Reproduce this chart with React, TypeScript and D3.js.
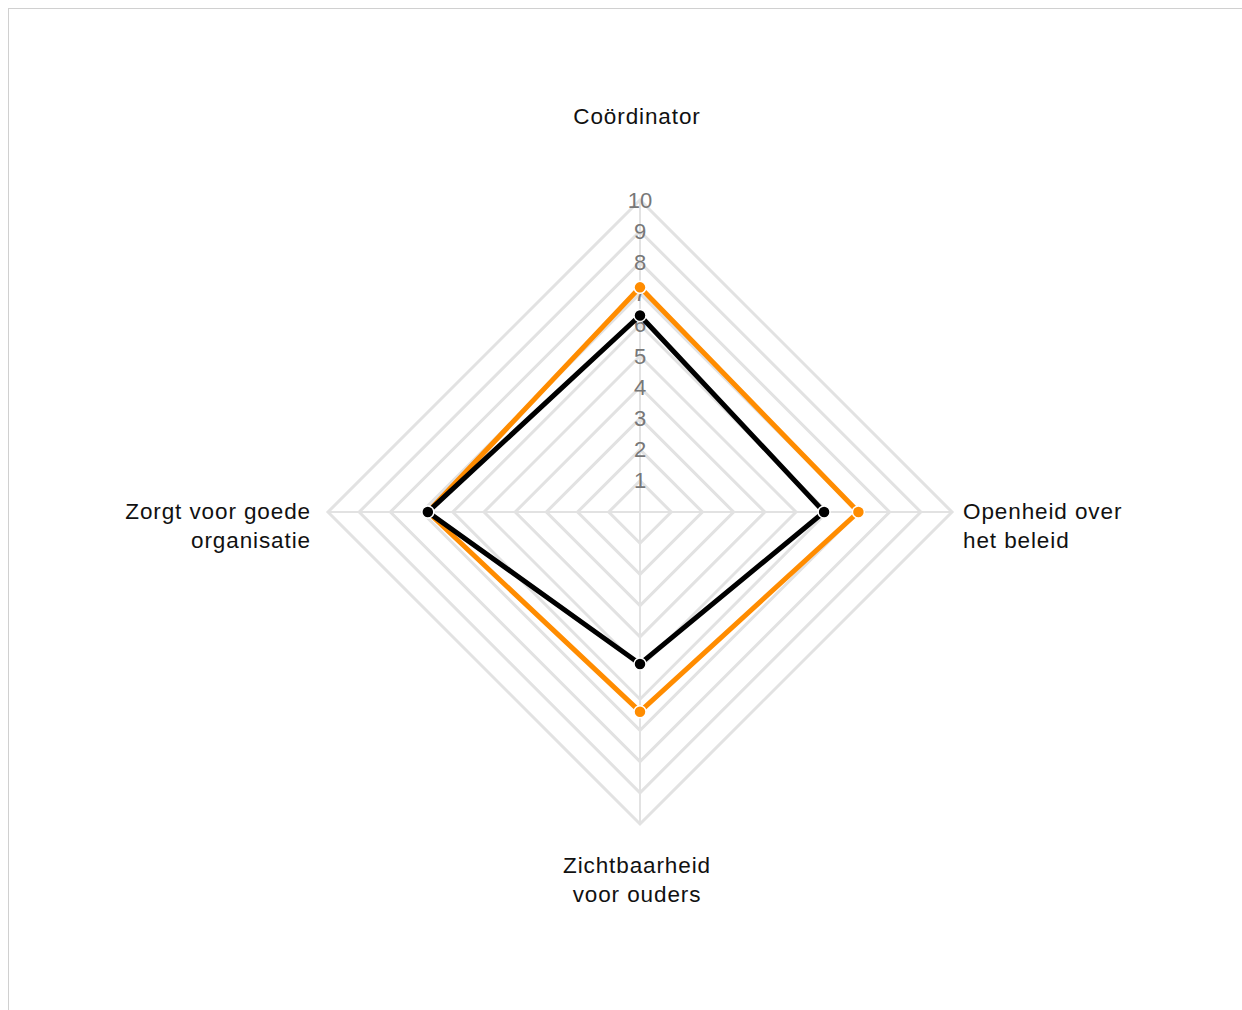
import React from "react";
import * as d3 from "d3";

const categories: string[][] = [
  ["Coördinator"],
  ["Openheid over", "het beleid"],
  ["Zichtbaarheid", "voor ouders"],
  ["Zorgt voor goede", "organisatie"],
];
const seriesOrange: number[] = [7.2, 7.0, 6.4, 6.8];
const seriesBlack: number[] = [6.3, 5.9, 4.87, 6.8];
const ticks: number[] = [1, 2, 3, 4, 5, 6, 7, 8, 9, 10];

const W = 1242;
const H = 1010;
const cx = 640;
const cy = 512;
const R = 312;

export default function App() {
  const r = d3.scaleLinear().domain([0, 10]).range([0, R]);
  const n = categories.length;
  const angle = (i: number) => (i * 2 * Math.PI) / n - Math.PI / 2;
  const pt = (i: number, v: number): [number, number] => [
    cx + r(v) * Math.cos(angle(i)),
    cy + r(v) * Math.sin(angle(i)),
  ];
  const line = d3.line<[number, number]>().curve(d3.curveLinearClosed);
  const series = [
    { data: seriesOrange, color: "#ff8c00" },
    { data: seriesBlack, color: "#000000" },
  ];
  const labelPos = [
    { x: 637, y: 116, anchor: "middle" },
    { x: 963, y: 511, anchor: "start" },
    { x: 637, y: 865, anchor: "middle" },
    { x: 311, y: 511, anchor: "end" },
  ];
  return (
    <svg
      width={W}
      height={H}
      style={{ position: "absolute", left: 0, top: 0, background: "#fff" }}
      fontFamily="'Liberation Sans', Arial, sans-serif"
    >
      <rect x={8.5} y={8.5} width={W + 20} height={H + 20} fill="#fff" stroke="#d0d0d0" strokeWidth={1} />
      {ticks.map((t) => (
        <path
          key={t}
          d={line(categories.map((_, i) => pt(i, t))) || ""}
          fill="none"
          stroke="#e2e2e2"
          strokeWidth={3}
        />
      ))}
      {categories.map((_, i) => {
        const [x, y] = pt(i, 10);
        return <line key={i} x1={cx} y1={cy} x2={x} y2={y} stroke="#e2e2e2" strokeWidth={2} />;
      })}
      {ticks.map((t) => (
        <text
          key={t}
          x={cx}
          y={cy - r(t)}
          textAnchor="middle"
          dominantBaseline="central"
          fontSize={22}
          fill="#777"
        >
          {t}
        </text>
      ))}
      {series.map((s, k) => (
        <g key={k}>
          <path
            d={line(s.data.map((v, i) => pt(i, v))) || ""}
            fill="none"
            stroke={s.color}
            strokeWidth={5}
            strokeLinejoin="miter"
          />
          {s.data.map((v, i) => {
            const [x, y] = pt(i, v);
            return <circle key={i} cx={x} cy={y} r={6} fill={s.color} stroke="#fff" strokeWidth={1.5} />;
          })}
        </g>
      ))}
      {categories.map((lines, i) => (
        <text
          key={i}
          x={labelPos[i].x}
          y={labelPos[i].y}
          textAnchor={labelPos[i].anchor as any}
          fontSize={22.5}
          letterSpacing={0.9}
          fill="#111"
          dominantBaseline="central"
        >
          {lines.map((l, j) => (
            <tspan key={j} x={labelPos[i].x} dy={j === 0 ? 0 : 28.5}>
              {l}
            </tspan>
          ))}
        </text>
      ))}
    </svg>
  );
}
